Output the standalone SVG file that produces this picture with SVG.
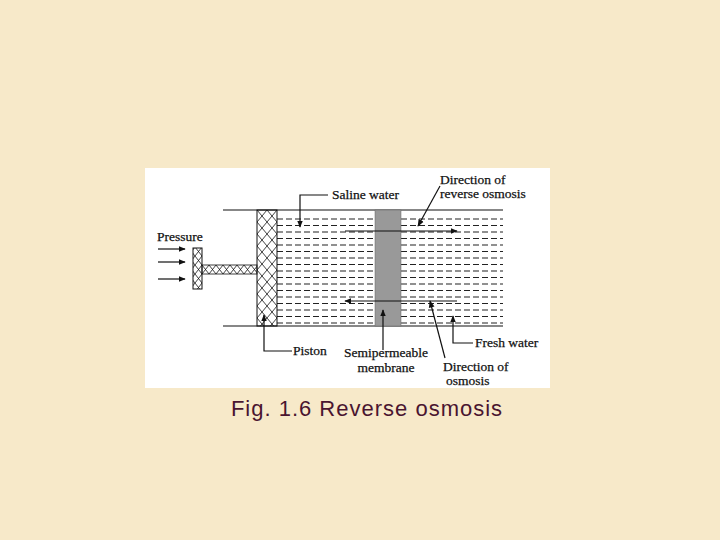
<svg xmlns="http://www.w3.org/2000/svg" width="720" height="540" viewBox="0 0 720 540">
<defs>
<style>
.t{font-family:"Liberation Serif",serif;font-size:13.5px;fill:#111;stroke:#111;stroke-width:0.25}
.l{stroke:#111;stroke-width:1.2;fill:none}
.d{stroke:#222;stroke-width:1.1;stroke-dasharray:6 3}
</style>
<marker id="a" viewBox="0 0 10 10" refX="9" refY="5" markerWidth="6" markerHeight="6" orient="auto"><path d="M0,1L10,5L0,9z" fill="#111"/></marker>
<pattern id="x" width="10" height="12" patternUnits="userSpaceOnUse" x="257" y="210"><path d="M0,0L10,12M10,0L0,12" stroke="#111" stroke-width="0.8"/></pattern>
<pattern id="x2" width="7" height="9" patternUnits="userSpaceOnUse" x="202" y="265"><path d="M0,0L7,9M7,0L0,9" stroke="#111" stroke-width="0.8"/></pattern>
</defs>
<rect width="720" height="540" fill="#f7e9c9"/>
<rect x="145" y="168" width="405" height="220" fill="#fff"/>
<g id="water">
<g class="d">
<path d="M277,219H375M401,219H503M277,225.5H375M401,225.5H503M277,232H375M401,232H503M277,238.5H375M401,238.5H503M277,245H375M401,245H503M277,251.5H375M401,251.5H503M277,258H375M401,258H503M277,264.5H375M401,264.5H503M277,271H375M401,271H503M277,277.5H375M401,277.5H503M277,284H375M401,284H503M277,290.5H375M401,290.5H503M277,297H375M401,297H503M277,303.5H375M401,303.5H503M277,310H375M401,310H503M277,316.5H375M401,316.5H503M277,323H375M401,323H503"/>
</g>
<path class="l" d="M223,210H503M223,326H503"/>
</g>
<g id="membrane"><rect x="375" y="210" width="26" height="116" fill="#999" stroke="#666" stroke-width="0.5"/></g>
<g id="piston">
<rect x="257" y="210" width="20" height="116" fill="url(#x)" stroke="#111"/>
<rect x="202" y="265" width="55" height="9" fill="url(#x2)" stroke="#111" stroke-width="0.8"/>
<rect x="193" y="248" width="9" height="41" fill="url(#x2)" stroke="#111"/>
</g>
<g id="connectors">
<path class="l" marker-end="url(#a)" d="M345,231H457"/>
<path class="l" stroke-width="2.2" marker-end="url(#a)" d="M457,301H345"/>
<path class="l" stroke-width="2" marker-end="url(#a)" d="M158,249H185"/>
<path class="l" marker-end="url(#a)" d="M158,262H185"/>
<path class="l" stroke-width="1.5" marker-end="url(#a)" d="M158,279H185"/>
<path class="l" marker-end="url(#a)" d="M328,195H300V227"/>
<path class="l" marker-end="url(#a)" d="M440,186L418,226"/>
<path class="l" marker-end="url(#a)" d="M292,351H264V315"/>
<path class="l" marker-end="url(#a)" d="M383,350V310"/>
<path class="l" marker-end="url(#a)" d="M473,343H453V316"/>
<path class="l" marker-end="url(#a)" d="M445,358L430,301"/>
</g>
<g id="labels">
<text class="t" x="157" y="241">Pressure</text>
<text class="t" x="332" y="199">Saline water</text>
<text class="t" x="440" y="184">Direction of</text>
<text class="t" x="440" y="198">reverse osmosis</text>
<text class="t" x="293" y="355">Piston</text>
<text class="t" x="386" y="357" text-anchor="middle">Semipermeable</text>
<text class="t" x="386" y="372" text-anchor="middle">membrane</text>
<text class="t" x="475" y="347">Fresh water</text>
<text class="t" x="443" y="371">Direction of</text>
<text class="t" x="446" y="385">osmosis</text>
</g>
<text x="367" y="416" text-anchor="middle" font-family="Liberation Sans,sans-serif" font-size="22" letter-spacing="1" fill="#4a1530">Fig. 1.6 Reverse osmosis</text>
</svg>
